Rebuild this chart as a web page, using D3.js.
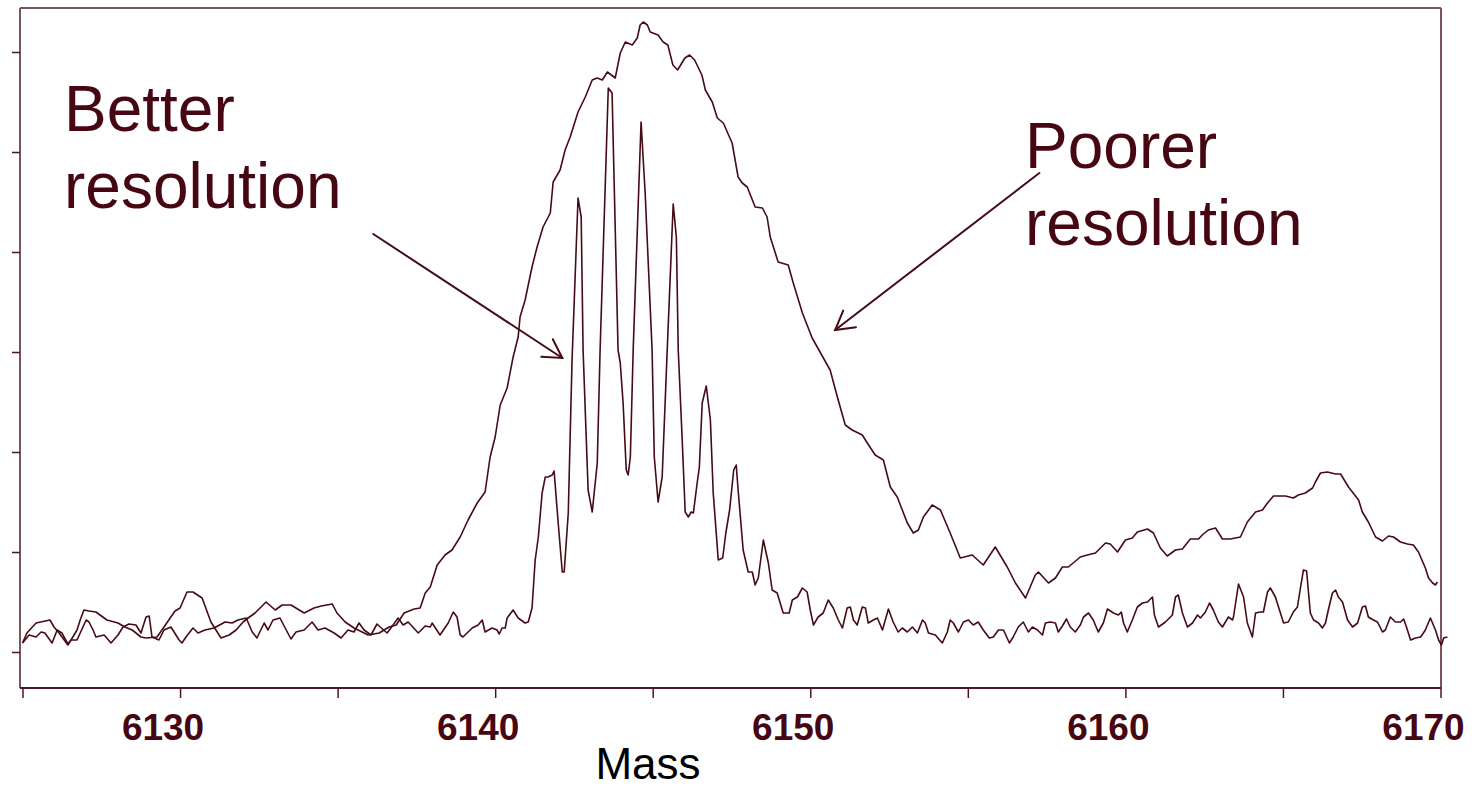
<!DOCTYPE html>
<html>
<head>
<meta charset="utf-8">
<script src="https://cdn.jsdelivr.net/npm/d3@7"></script>
<style>
  html, body { margin: 0; padding: 0; background: #ffffff; }
  svg { display: block; }
</style>
</head>
<body>
<svg id="chart" width="1472" height="790"></svg>
<script>
// ---------- DATA ----------
const xTickValues = [6125, 6130, 6135, 6140, 6145, 6150, 6155, 6160, 6165, 6170];
const xTickLabels = ["6130", "6140", "6150", "6160", "6170"];
const yTickValues = [0, 100, 200, 300, 400, 500, 600];
const xAxisTitle = "Mass";
const annotationTexts = [["Better", "resolution"], ["Poorer", "resolution"]];
// arrows: [tailMass, tailIntensity, tipMass, tipIntensity]
const arrowBetter = [6136.13, 418, 6142.13, 294];
const arrowPoorer = [6157.27, 479, 6150.79, 322];

// Poorer resolution spectrum: [mass, intensity]
const poorerSeries = [[6125.00,9],[6125.14,19],[6125.43,29],[6125.87,32],[6126.00,25],[6126.16,19],[6126.44,7],[6126.54,12],[6126.73,22],[6126.83,32],[6126.95,42],[6127.11,41],[6127.33,40],[6127.68,32],[6128.03,29],[6128.25,25],[6128.48,22],[6128.76,15],[6128.92,14],[6129.27,15],[6129.49,25],[6129.84,41],[6130.00,44],[6130.22,60],[6130.41,60],[6130.70,54],[6130.98,30],[6131.30,14],[6131.56,17],[6131.78,22],[6132.00,30],[6132.16,34],[6132.38,39],[6132.73,50],[6133.02,42],[6133.24,47],[6133.52,47],[6133.94,39],[6134.25,44],[6134.48,46],[6134.83,48],[6134.98,39],[6135.24,30],[6135.52,24],[6135.97,17],[6136.32,19],[6136.63,25],[6136.86,27],[6137.11,39],[6137.43,43],[6137.62,44],[6137.78,59],[6137.94,65],[6138.16,87],[6138.41,97],[6138.63,102],[6138.89,115],[6139.14,132],[6139.43,149],[6139.68,160],[6139.84,195],[6140.00,215],[6140.16,247],[6140.38,264],[6140.57,295],[6140.73,315],[6140.79,335],[6140.95,352],[6141.17,385],[6141.33,405],[6141.52,425],[6141.75,439],[6141.84,470],[6142.06,482],[6142.22,502],[6142.38,515],[6142.63,540],[6142.86,555],[6143.08,572],[6143.24,574],[6143.40,572],[6143.56,580],[6143.81,574],[6143.97,599],[6144.13,610],[6144.35,607],[6144.51,614],[6144.60,627],[6144.70,630],[6144.83,627],[6144.92,620],[6145.17,617],[6145.33,610],[6145.48,607],[6145.64,587],[6145.79,582],[6146.02,594],[6146.17,597],[6146.33,592],[6146.56,577],[6146.67,562],[6146.89,550],[6147.05,534],[6147.24,529],[6147.52,509],[6147.71,475],[6147.84,469],[6148.00,465],[6148.25,445],[6148.48,444],[6148.63,435],[6148.73,415],[6148.98,390],[6149.30,387],[6149.46,369],[6149.75,339],[6150.06,314],[6150.63,282],[6150.86,255],[6151.11,227],[6151.33,222],[6151.65,217],[6151.81,209],[6152.06,197],[6152.32,192],[6152.54,165],[6152.76,155],[6153.08,129],[6153.27,119],[6153.43,122],[6153.59,135],[6153.87,147],[6154.13,142],[6154.44,119],[6154.76,94],[6155.14,97],[6155.49,87],[6155.87,105],[6156.25,85],[6156.51,69],[6156.83,54],[6157.14,77],[6157.24,80],[6157.56,69],[6157.78,74],[6158.00,85],[6158.19,85],[6158.57,95],[6158.79,97],[6159.05,99],[6159.37,109],[6159.52,108],[6159.75,100],[6160.00,112],[6160.22,114],[6160.38,120],[6160.70,123],[6160.89,119],[6161.11,104],[6161.33,96],[6161.59,102],[6161.81,103],[6162.06,113],[6162.32,113],[6162.44,117],[6162.63,122],[6162.86,124],[6163.08,113],[6163.33,113],[6163.65,115],[6163.87,130],[6164.13,140],[6164.35,142],[6164.51,149],[6164.70,156],[6165.08,156],[6165.33,154],[6165.49,157],[6165.71,159],[6165.94,164],[6166.03,170],[6166.19,179],[6166.41,180],[6166.67,178],[6166.83,178],[6167.08,165],[6167.40,152],[6167.52,140],[6167.71,130],[6167.94,115],[6168.16,111],[6168.35,116],[6168.51,115],[6168.73,110],[6168.95,108],[6169.14,107],[6169.30,100],[6169.52,84],[6169.62,74],[6169.75,69],[6169.84,67],[6169.90,70]];

// Better resolution spectrum: [mass, intensity]
const betterSeries = [[6125.00,9],[6125.21,17],[6125.43,15],[6125.59,20],[6125.71,19],[6125.94,9],[6126.10,22],[6126.25,19],[6126.44,8],[6126.54,12],[6126.73,12],[6127.02,32],[6127.11,30],[6127.24,22],[6127.33,15],[6127.59,17],[6127.81,9],[6128.03,17],[6128.19,25],[6128.38,28],[6128.60,27],[6128.76,19],[6128.92,35],[6129.02,36],[6129.11,15],[6129.33,12],[6129.49,22],[6129.71,25],[6129.97,12],[6130.06,9],[6130.19,15],[6130.41,24],[6130.57,19],[6130.79,22],[6131.08,24],[6131.43,30],[6131.65,29],[6131.84,32],[6132.10,34],[6132.29,20],[6132.44,14],[6132.67,29],[6132.79,22],[6132.95,32],[6133.17,34],[6133.37,22],[6133.52,13],[6133.68,20],[6133.94,22],[6134.19,30],[6134.38,22],[6134.60,24],[6134.89,19],[6135.11,14],[6135.33,22],[6135.52,20],[6135.68,29],[6135.84,22],[6136.06,17],[6136.25,28],[6136.35,25],[6136.57,19],[6136.76,27],[6136.92,34],[6137.08,27],[6137.24,30],[6137.56,19],[6137.78,26],[6137.94,25],[6138.00,29],[6138.25,17],[6138.51,29],[6138.67,40],[6138.79,35],[6138.89,17],[6138.98,15],[6139.11,19],[6139.27,24],[6139.46,27],[6139.59,32],[6139.68,20],[6139.90,24],[6140.06,22],[6140.13,18],[6140.22,24],[6140.32,24],[6140.38,34],[6140.57,42],[6140.73,34],[6140.95,29],[6141.05,30],[6141.17,44],[6141.27,92],[6141.37,115],[6141.49,159],[6141.59,175],[6141.68,175],[6141.81,177],[6141.87,181],[6142.00,129],[6142.13,80],[6142.19,80],[6142.32,139],[6142.44,292],[6142.63,454],[6142.73,435],[6142.79,302],[6142.95,162],[6143.08,140],[6143.24,189],[6143.33,302],[6143.59,564],[6143.71,559],[6143.90,302],[6143.97,289],[6144.06,249],[6144.16,182],[6144.22,177],[6144.29,195],[6144.38,302],[6144.63,530],[6144.76,459],[6144.98,302],[6145.05,195],[6145.17,150],[6145.30,175],[6145.46,302],[6145.65,448],[6145.75,415],[6145.81,302],[6145.94,209],[6146.03,140],[6146.13,135],[6146.22,140],[6146.29,139],[6146.41,169],[6146.48,185],[6146.57,249],[6146.70,266],[6146.83,232],[6146.92,159],[6147.08,92],[6147.22,94],[6147.32,119],[6147.44,142],[6147.57,182],[6147.65,187],[6147.71,162],[6147.87,102],[6148.03,80],[6148.16,80],[6148.25,67],[6148.35,74],[6148.51,112],[6148.67,89],[6148.79,62],[6148.95,59],[6149.14,39],[6149.33,39],[6149.43,52],[6149.59,55],[6149.75,64],[6149.90,60],[6150.00,42],[6150.10,27],[6150.25,35],[6150.41,39],[6150.57,52],[6150.73,44],[6150.89,32],[6151.02,24],[6151.17,44],[6151.27,45],[6151.37,32],[6151.49,27],[6151.65,45],[6151.75,44],[6151.84,29],[6152.00,32],[6152.13,34],[6152.29,22],[6152.48,43],[6152.63,30],[6152.79,20],[6152.92,24],[6153.08,20],[6153.24,25],[6153.40,19],[6153.56,32],[6153.65,29],[6153.75,19],[6153.97,17],[6154.19,9],[6154.35,20],[6154.44,32],[6154.54,29],[6154.70,20],[6154.86,30],[6155.02,32],[6155.17,27],[6155.33,30],[6155.49,22],[6155.68,14],[6155.81,15],[6155.97,22],[6156.13,22],[6156.32,9],[6156.44,15],[6156.60,25],[6156.76,30],[6156.92,20],[6157.05,25],[6157.21,22],[6157.37,17],[6157.46,29],[6157.62,30],[6157.78,29],[6157.87,20],[6158.00,26],[6158.13,33],[6158.25,25],[6158.41,20],[6158.57,27],[6158.67,35],[6158.83,39],[6158.98,32],[6159.14,20],[6159.30,29],[6159.43,43],[6159.62,39],[6159.78,37],[6159.87,40],[6159.94,29],[6160.06,20],[6160.22,32],[6160.38,45],[6160.54,49],[6160.70,50],[6160.86,55],[6160.92,37],[6161.05,25],[6161.27,30],[6161.49,37],[6161.59,55],[6161.68,57],[6161.81,39],[6161.97,25],[6162.13,29],[6162.29,37],[6162.38,34],[6162.54,40],[6162.67,49],[6162.79,42],[6162.95,30],[6163.08,25],[6163.27,35],[6163.40,32],[6163.43,35],[6163.59,68],[6163.75,55],[6163.87,29],[6164.03,15],[6164.13,39],[6164.29,40],[6164.38,40],[6164.51,60],[6164.60,64],[6164.76,55],[6164.86,45],[6165.02,29],[6165.17,30],[6165.33,40],[6165.46,45],[6165.56,65],[6165.65,82],[6165.75,81],[6165.87,39],[6165.97,32],[6166.13,29],[6166.25,24],[6166.35,29],[6166.44,42],[6166.57,59],[6166.67,62],[6166.76,55],[6166.89,50],[6167.05,32],[6167.21,25],[6167.37,29],[6167.52,45],[6167.62,46],[6167.71,35],[6167.87,32],[6168.00,30],[6168.16,20],[6168.25,22],[6168.41,35],[6168.57,30],[6168.73,30],[6168.83,33],[6168.92,25],[6169.05,12],[6169.21,14],[6169.37,15],[6169.52,22],[6169.68,34],[6169.84,22],[6169.94,12],[6170.03,7],[6170.10,14],[6170.22,15]];

// ---------- LAYOUT ----------
const svg = d3.select("#chart");
const frame = { left: 20, right: 1441, top: 8, bottom: 688 };
const x = d3.scaleLinear().domain([6125, 6170]).range([22.5, 1440.5]);
const y = d3.scaleLinear().domain([-36, 644]).range([688, 8]);

const lineColor = "#460b15";
const textColor = "#470712";
const frameColor = "#7a565b";
const axisColor = "#4a1620";

// frame (top, right, left)
svg.append("line").attr("x1", frame.left).attr("x2", frame.right).attr("y1", frame.top).attr("y2", frame.top)
  .attr("stroke", frameColor).attr("stroke-width", 2);
svg.append("line").attr("x1", frame.right).attr("x2", frame.right).attr("y1", frame.top).attr("y2", frame.bottom)
  .attr("stroke", frameColor).attr("stroke-width", 2);
svg.append("line").attr("x1", frame.left).attr("x2", frame.left).attr("y1", frame.top).attr("y2", frame.bottom)
  .attr("stroke", frameColor).attr("stroke-width", 2);

// X axis
const xAxis = d3.axisBottom(x).tickValues(xTickValues).tickSize(10).tickFormat("");
const gx = svg.append("g").attr("transform", `translate(0,${frame.bottom})`).call(xAxis);
gx.select(".domain").attr("d", `M${frame.left},0H${frame.right}`).attr("stroke", axisColor).attr("stroke-width", 2);
gx.selectAll(".tick line").attr("stroke", axisColor).attr("stroke-width", 1.5);

// X tick labels
svg.append("g").selectAll("text").data(xTickLabels).join("text")
  .attr("x", d => x(+d) - 17)
  .attr("y", 740)
  .attr("text-anchor", "middle")
  .attr("font-family", "'Liberation Sans', Arial, sans-serif")
  .attr("font-weight", "bold")
  .attr("font-size", 37)
  .attr("fill", textColor)
  .text(d => d);

// Y axis (ticks only)
const yAxis = d3.axisLeft(y).tickValues(yTickValues).tickSize(8).tickFormat("");
const gy = svg.append("g").attr("transform", `translate(${frame.left},0)`).call(yAxis);
gy.select(".domain").remove();
gy.selectAll(".tick line").attr("stroke", axisColor).attr("stroke-width", 1.5);

// Axis title
svg.append("text")
  .attr("x", 648).attr("y", 779)
  .attr("text-anchor", "middle")
  .attr("font-family", "'Liberation Sans', Arial, sans-serif")
  .attr("font-size", 44)
  .attr("fill", "#000000")
  .text(xAxisTitle);

// Lines
const line = d3.line().x(d => x(d[0])).y(d => y(d[1]));
svg.append("path").datum(poorerSeries).attr("d", line)
  .attr("fill", "none").attr("stroke", lineColor).attr("stroke-width", 1.6).attr("stroke-linejoin", "round");
svg.append("path").datum(betterSeries).attr("d", line)
  .attr("fill", "none").attr("stroke", lineColor).attr("stroke-width", 1.6).attr("stroke-linejoin", "round");

// Annotation text
const annPos = [[64, 131], [1025, 168]];
annotationTexts.forEach((lines, i) => {
  const t = svg.append("text")
    .attr("font-family", "'Liberation Sans', Arial, sans-serif")
    .attr("font-size", 64)
    .attr("fill", textColor);
  lines.forEach((s, j) => {
    t.append("tspan").attr("x", annPos[i][0]).attr("y", annPos[i][1] + j * 77).text(s);
  });
});

// Arrows
function drawArrow(a) {
  const x1 = x(a[0]), y1 = y(a[1]), x2 = x(a[2]), y2 = y(a[3]);
  const ang = Math.atan2(y1 - y2, x1 - x2);
  const L = 21, spread = Math.PI / 6;
  const g = svg.append("g").attr("stroke", lineColor).attr("stroke-width", 2).attr("fill", "none").attr("stroke-linecap", "round");
  g.append("line").attr("x1", x1).attr("y1", y1).attr("x2", x2).attr("y2", y2);
  g.append("path").attr("d",
    `M${x2 + L * Math.cos(ang + spread)},${y2 + L * Math.sin(ang + spread)}L${x2},${y2}L${x2 + L * Math.cos(ang - spread)},${y2 + L * Math.sin(ang - spread)}`);
}
drawArrow(arrowBetter);
drawArrow(arrowPoorer);
</script>
</body>
</html>
